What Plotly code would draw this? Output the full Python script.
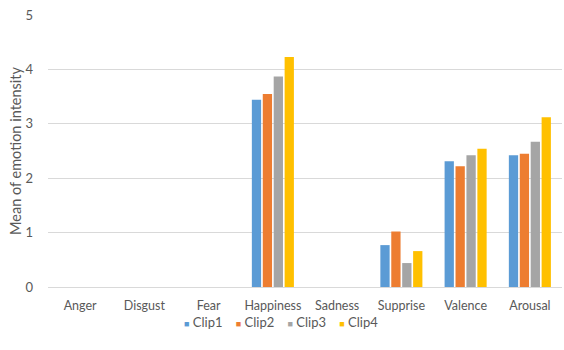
import plotly.graph_objects as go

categories = ["Anger", "Disgust", "Fear", "Happiness", "Sadness", "Supprise", "Valence", "Arousal"]
clip1 = [0, 0, 0, 3.44, 0, 0.77, 2.31, 2.42]
clip2 = [0, 0, 0, 3.55, 0, 1.02, 2.22, 2.45]
clip3 = [0, 0, 0, 3.87, 0, 0.44, 2.42, 2.67]
clip4 = [0, 0, 0, 4.23, 0, 0.66, 2.54, 3.12]
series_names = ["Clip1", "Clip2", "Clip3", "Clip4"]
colors = ["#5B9BD5", "#ED7D31", "#A5A5A5", "#FFC000"]

fig = go.Figure()
for name, vals, col in zip(series_names, [clip1, clip2, clip3, clip4], colors):
    fig.add_trace(go.Bar(name=name, x=categories, y=vals, showlegend=False,
                         marker=dict(color=col, line=dict(width=0))))

font_color = "#595959"
fam = "Lato, Open Sans, sans-serif"

# compact legend (Excel style small squares) built from the series names/colours
legend_text = "&nbsp;&nbsp;&nbsp;&nbsp;".join(
    f'<span style="color:{c};font-size:9px">■</span>&nbsp;{n}' for n, c in zip(series_names, colors)
)
fig.add_annotation(text=legend_text, xref="paper", yref="paper", x=0.453, y=-0.129,
                   xanchor="center", yanchor="middle", showarrow=False,
                   font=dict(family=fam, size=13, color=font_color))

fig.update_layout(
    width=564, height=350,
    margin=dict(l=48, r=2, t=15, b=63),
    paper_bgcolor="white", plot_bgcolor="white",
    barmode="group", bargap=0.32, bargroupgap=0.15,
    font=dict(family=fam, size=13, color=font_color),
    xaxis=dict(showline=False, ticks="", showgrid=False, ticklabelstandoff=9,
               tickfont=dict(family=fam, size=12.5, color=font_color)),
    yaxis=dict(range=[0, 5], dtick=1, showgrid=True, gridcolor="#D9D9D9", gridwidth=1,
               zeroline=True, zerolinecolor="#D9D9D9", zerolinewidth=1,
               showline=False, ticks="", ticklabelstandoff=14,
               tickfont=dict(family=fam, size=13, color=font_color),
               title=dict(text="Mean of emotion intensity", font=dict(family=fam, size=14.5, color=font_color), standoff=0)),
)
fig.write_html("out.html")
